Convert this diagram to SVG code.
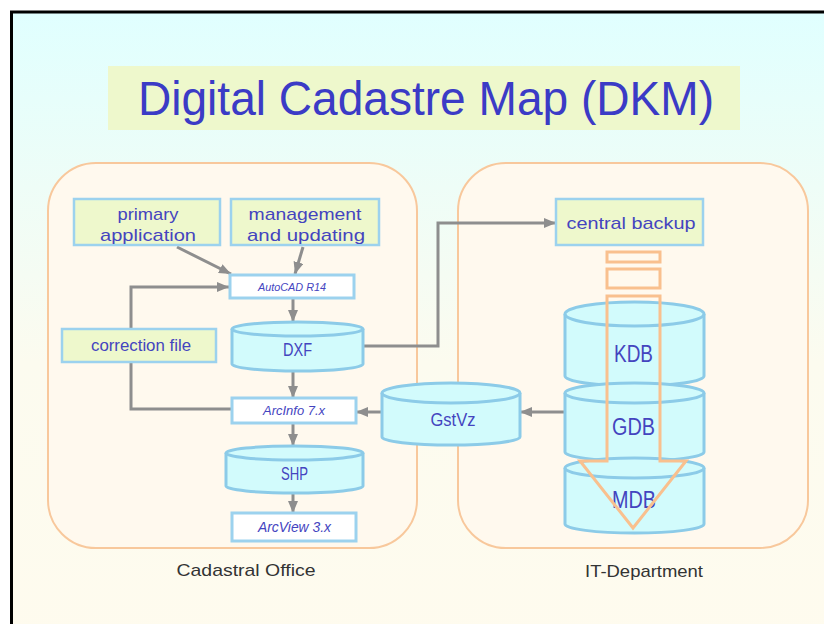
<svg xmlns="http://www.w3.org/2000/svg" width="824" height="624" viewBox="0 0 824 624">
<defs>
<linearGradient id="bg" x1="0" y1="0" x2="0" y2="1">
<stop offset="0" stop-color="#e0ffff"/>
<stop offset="0.5" stop-color="#fcfbef"/>
<stop offset="1" stop-color="#fffbee"/>
</linearGradient>
<marker id="ah" viewBox="0 0 12 10" refX="12" refY="5" markerWidth="12" markerHeight="10" markerUnits="userSpaceOnUse" orient="auto">
<path d="M0,0 L12,5 L0,10 z" fill="#8e8e8e"/>
</marker>
<style>
.panel{fill:#fff9ee;stroke:#f8c89c;stroke-width:2}
.box{fill:#eef8cc;stroke:#9cd2ee;stroke-width:2.5}
.wbox{fill:#ffffff;stroke:#9cd2ee;stroke-width:3}
.cyl{fill:#d2fbfc;stroke:#8ccbe8;stroke-width:3}
.rim{fill:none;stroke:#8ccbe8;stroke-width:3}
.con{fill:none;stroke:#8e8e8e;stroke-width:3}
.lbl{font-family:"Liberation Sans",Arial,sans-serif;fill:#4444bf;text-anchor:middle}
.it{font-family:"Liberation Sans",Arial,sans-serif;fill:#4444bf;text-anchor:middle;font-style:italic}
.cap{font-family:"Liberation Sans",Arial,sans-serif;fill:#333333;text-anchor:middle;font-size:17px}
.org{fill:none;stroke:#f9c08e;stroke-width:3}
</style>
</defs>
<rect x="0" y="0" width="824" height="624" fill="#ffffff"/>
<rect x="11.5" y="12" width="900" height="700" fill="url(#bg)" stroke="#000000" stroke-width="3"/>

<g id="title">
<rect x="108" y="66" width="632" height="64" fill="#eef8cc"/>
<text x="138" y="115" font-family="'Liberation Sans',Arial,sans-serif" font-size="48" fill="#3b3bc6" textLength="576" lengthAdjust="spacingAndGlyphs">Digital Cadastre Map (DKM)</text>
</g>

<g id="cadastral-office">
<rect class="panel" x="48" y="163" width="369" height="385" rx="48" ry="48"/>
<text class="cap" x="246" y="576" textLength="139" lengthAdjust="spacingAndGlyphs">Cadastral Office</text>
</g>
<g id="it-department">
<rect class="panel" x="458" y="163" width="350" height="385" rx="48" ry="48"/>
<text class="cap" x="644" y="577" textLength="118" lengthAdjust="spacingAndGlyphs">IT-Department</text>
</g>

<g id="connectors">
<path class="con" d="M177,247 L231,274" marker-end="url(#ah)"/>
<path class="con" d="M303,247 L295,274" marker-end="url(#ah)"/>
<path class="con" d="M293,298 V322" marker-end="url(#ah)"/>
<path class="con" d="M293,371 V398" marker-end="url(#ah)"/>
<path class="con" d="M293,423 V446" marker-end="url(#ah)"/>
<path class="con" d="M293,493 V513" marker-end="url(#ah)"/>
<path class="con" d="M232,409 H131 V287 H229" marker-end="url(#ah)"/>
<path class="con" d="M363,346 H438 V223 H556" marker-end="url(#ah)"/>
<path class="con" d="M565,412 H520" marker-end="url(#ah)"/>
<path class="con" d="M382,412 H356" marker-end="url(#ah)"/>
</g>

<g id="primary-application">
<rect class="box" x="74" y="199" width="146" height="46"/>
<text class="lbl" x="148" y="220" font-size="17" textLength="61" lengthAdjust="spacingAndGlyphs">primary</text>
<text class="lbl" x="148" y="241" font-size="17" textLength="96" lengthAdjust="spacingAndGlyphs">application</text>
</g>
<g id="management-updating">
<rect class="box" x="231" y="199" width="148" height="46"/>
<text class="lbl" x="305" y="220" font-size="17" textLength="113" lengthAdjust="spacingAndGlyphs">management</text>
<text class="lbl" x="306" y="241" font-size="17" textLength="118" lengthAdjust="spacingAndGlyphs">and updating</text>
</g>
<g id="autocad">
<rect class="wbox" x="230" y="275" width="124" height="23"/>
<text class="it" x="292" y="291" font-size="11" textLength="68" lengthAdjust="spacingAndGlyphs">AutoCAD R14</text>
</g>
<g id="correction-file">
<rect class="box" x="62" y="329" width="154" height="33"/>
<text class="lbl" x="141" y="351" font-size="16" textLength="100" lengthAdjust="spacingAndGlyphs">correction file</text>
</g>
<g id="dxf">
<path class="cyl" d="M232,329 A65.5,7 0 0 1 363,329 V364 A65.5,7 0 0 1 232,364 Z"/>
<path class="rim" d="M232,329 A65.5,7 0 0 0 363,329"/>
<text class="lbl" x="297.5" y="356" font-size="18" textLength="29" lengthAdjust="spacingAndGlyphs">DXF</text>
</g>
<g id="arcinfo">
<rect class="wbox" x="232" y="398" width="124" height="25"/>
<text class="it" x="294" y="415" font-size="13" textLength="62" lengthAdjust="spacingAndGlyphs">ArcInfo 7.x</text>
</g>
<g id="shp">
<path class="cyl" d="M226,453 A68.5,7 0 0 1 363,453 V486 A68.5,7 0 0 1 226,486 Z"/>
<path class="rim" d="M226,453 A68.5,7 0 0 0 363,453"/>
<text class="lbl" x="294.5" y="480" font-size="19" textLength="27" lengthAdjust="spacingAndGlyphs">SHP</text>
</g>
<g id="arcview">
<rect class="wbox" x="232" y="513" width="124" height="28"/>
<text class="it" x="294.5" y="532" font-size="14" textLength="73" lengthAdjust="spacingAndGlyphs">ArcView 3.x</text>
</g>

<g id="central-backup">
<rect class="box" x="556" y="199" width="147" height="46"/>
<text class="lbl" x="631" y="229" font-size="17" textLength="129" lengthAdjust="spacingAndGlyphs">central backup</text>
</g>
<g id="gstvz">
<path class="cyl" d="M382,393 A69,10 0 0 1 520,393 V437 A69,8 0 0 1 382,437 Z"/>
<path class="rim" d="M382,393 A69,10 0 0 0 520,393"/>
<text class="lbl" x="453" y="426" font-size="18" textLength="45" lengthAdjust="spacingAndGlyphs">GstVz</text>
</g>
<g id="kdb">
<path class="cyl" d="M565,314 A69.5,12 0 0 1 704,314 V376 A69.5,10 0 0 1 565,376 Z"/>
<path class="rim" d="M565,314 A69.5,12 0 0 0 704,314"/>
<text class="lbl" x="633.5" y="362" font-size="23" textLength="39" lengthAdjust="spacingAndGlyphs">KDB</text>
</g>
<g id="gdb">
<path class="cyl" d="M565,393 A69.5,10 0 0 1 704,393 V452 A69.5,9 0 0 1 565,452 Z"/>
<path class="rim" d="M565,393 A69.5,10 0 0 0 704,393"/>
<text class="lbl" x="633.5" y="435" font-size="23" textLength="43" lengthAdjust="spacingAndGlyphs">GDB</text>
</g>
<g id="mdb">
<path class="cyl" d="M565,468 A69.5,10 0 0 1 704,468 V524 A69.5,9 0 0 1 565,524 Z"/>
<path class="rim" d="M565,468 A69.5,10 0 0 0 704,468"/>
<text class="lbl" x="634" y="508" font-size="23" textLength="44" lengthAdjust="spacingAndGlyphs">MDB</text>
</g>

<g id="data-flow-arrow">
<rect class="org" x="607" y="252" width="53" height="10"/>
<rect class="org" x="607" y="269" width="53" height="19"/>
<path class="org" d="M607,296 H660 V461 H686 L633,528 L580,461 H607 Z"/>
</g>
</svg>
